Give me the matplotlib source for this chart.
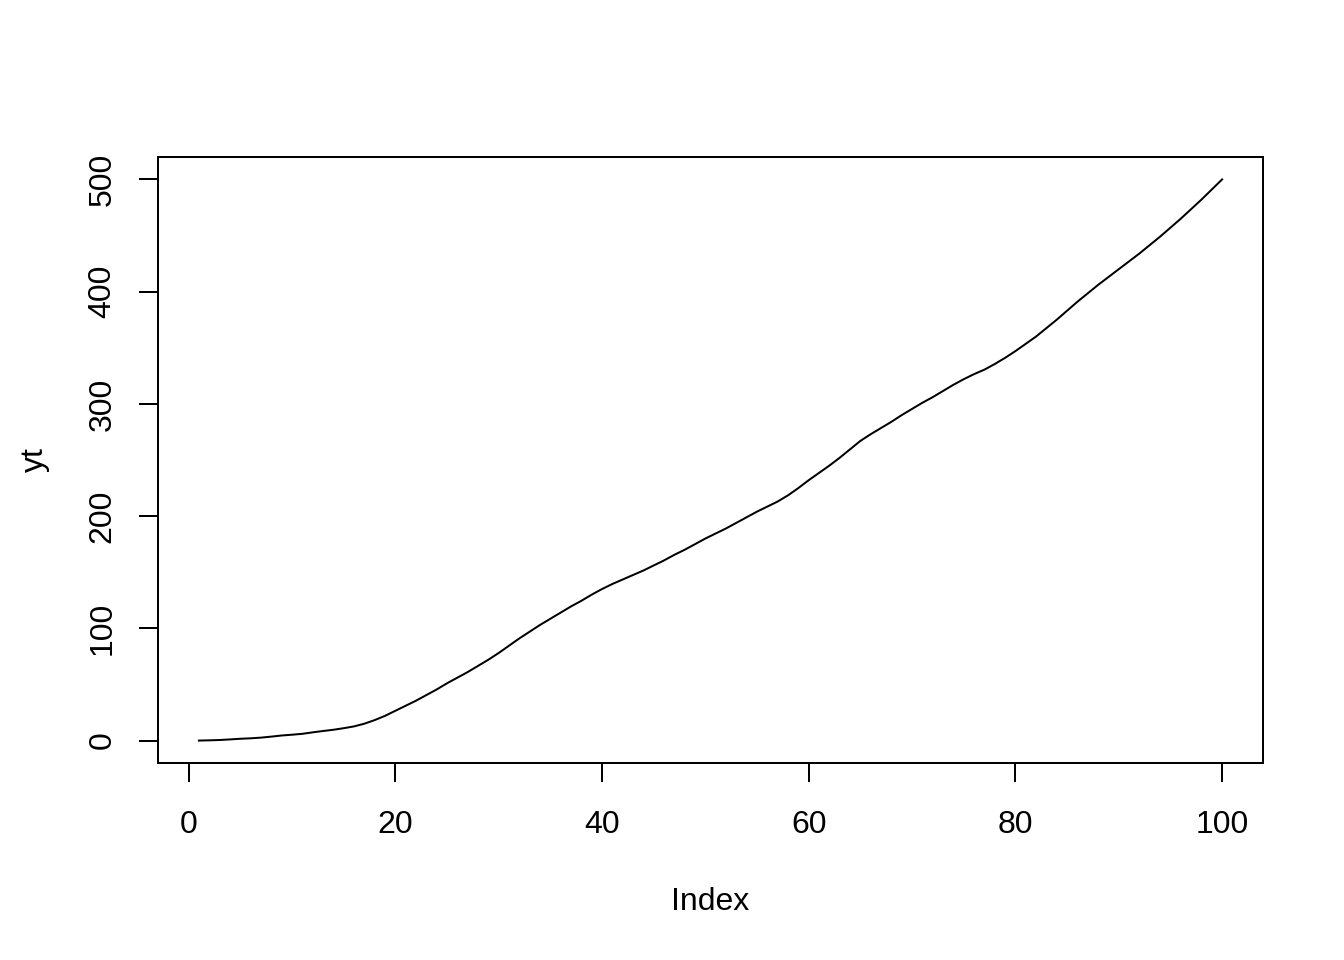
import numpy as np
import matplotlib
matplotlib.use("Agg")
import matplotlib.pyplot as plt

# values, index 1..100
yt = [
    0, 0.2, 0.5, 1.0, 1.6, 2.0, 2.6, 3.5, 4.5, 5.2,
    6.0, 7.3, 8.5, 9.6, 11.0, 12.6, 15.0, 18.2, 22.0, 26.5,
    31.0, 35.5, 40.5, 45.5, 51.0, 56.0, 61.0, 66.5, 72.0, 78.0,
    84.5, 91.0, 97.0, 103.0, 108.5, 114.0, 119.5, 124.5, 130.0, 135.0,
    139.5, 143.5, 147.5, 151.5, 156.0, 160.5, 165.5, 170.0, 175.0, 180.0,
    184.5, 189.0, 194.0, 199.0, 204.0, 208.5, 213.0, 218.5, 225.0, 232.0,
    238.5, 245.0, 252.0, 259.5, 267.0, 273.0, 278.5, 284.0, 290.0, 295.5,
    301.0, 306.0, 311.5, 317.0, 322.0, 326.5, 330.5, 335.5, 341.0, 347.0,
    353.5, 360.0, 367.5, 375.0, 383.0, 391.0, 398.5, 406.0, 413.0, 420.0,
    427.0, 434.0, 441.5, 449.0, 457.0, 465.0, 473.5, 482.0, 491.0, 500.0,
]
index = np.arange(1, len(yt) + 1)
xticks = [0, 20, 40, 60, 80, 100]
yticks = [0, 100, 200, 300, 400, 500]

plt.rcParams['font.family'] = ['Liberation Sans', 'DejaVu Sans']
plt.rcParams['font.size'] = 12

fig = plt.figure(figsize=(7, 5), dpi=192)
ax = fig.add_axes([158 / 1344, 1 - 763 / 960, (1263 - 158) / 1344, (763 - 157) / 960])

ax.plot(index, yt, color='black', linewidth=0.75)

# R style: 4% padding on both axes
xr = index.max() - index.min()
ax.set_xlim(index.min() - 0.04 * xr, index.max() + 0.04 * xr)
yr = max(yt) - min(yt)
ax.set_ylim(min(yt) - 0.04 * yr, max(yt) + 0.04 * yr)

ax.set_xticks(xticks)
ax.set_yticks(yticks)
for lab in ax.get_yticklabels():
    lab.set_rotation(90)
    lab.set_va('center')
ax.tick_params(direction='out', length=7.2, width=0.75, labelsize=12)
ax.tick_params(axis='x', pad=10.5)
ax.tick_params(axis='y', pad=8)

for s in ax.spines.values():
    s.set_linewidth(0.75)

ax.set_xlabel('Index', labelpad=17.5)
ax.set_ylabel('yt', labelpad=14)

fig.savefig('out.png', dpi=192)
